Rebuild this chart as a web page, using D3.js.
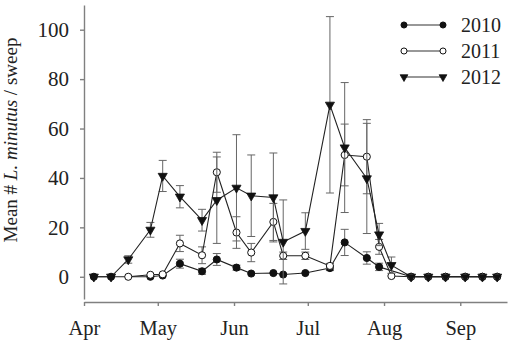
<!DOCTYPE html>
<meta charset="utf-8">
<style>
body { margin: 0; background: #fff; }
.axis path, .axis line { stroke: #808080; stroke-width: 1.4px; }
.series path.line { fill: none; stroke: #222; stroke-width: 1.1px; }
.err line { stroke: #666; stroke-width: 1px; }
</style>
<svg width="510" height="345"></svg>
<script src="https://cdnjs.cloudflare.com/ajax/libs/d3/7.8.5/d3.min.js"></script>
<script>
// sampling dates (month-day), shared by the three years
var dates = ["04-05","04-12","04-19","04-28","05-03","05-10","05-19","05-25","06-02","06-08","06-17","06-21",
             "06-30","07-10","07-16","07-25","07-30","08-04","08-12","08-19","08-26","09-03","09-10","09-16"];

var years = ["2010", "2011", "2012"];

var mean2010 = [0, 0, null, 0, 0.5, 5.3, 2.2, 7, 3.7, 1.3, 1.5, 0.9, 1.5, 3.5, 13.9, 7.6, 4, null, 0, 0, 0, 0, 0, 0];
var se2010   = [0, 0, null, 0, 0.5, 1.8, 1.2, 2.4, 1, 0.5, 0.5, 0.5, 0.5, 1, 5.3, 2.5, 1.5, null, 0, 0, 0, 0, 0, 0];

var mean2011 = [null, null, 0, 0.8, 1, 13.5, 8.7, 42.3, 17.9, 9.8, 22.2, 8.5, 8.5, 4.4, 49.3, 48.6, 12.1, 0.3, 0, 0, 0, 0, 0, 0];
var se2011   = [null, null, 0, 0.5, 0.5, 3.3, 3.4, 8.1, 6.4, 3.7, 7.5, 1.5, 1.5, 1, 12.5, 15, 3, 0.5, 0, 0, 0, 0, 0, 0];

var mean2012 = [0, 0, 7, 19, 40.8, 32.4, 22.9, 31, 36, 32.8, 32.1, 14.1, 18.5, 69.6, 52.3, 39.8, 17.1, 4.7, 0, 0, 0, 0, 0, 0];
var se2012   = [0, 0, 1.5, 3, 6.3, 4.5, 4.4, 17.5, 21.5, 16.5, 18, 17, 7.4, 35.7, 26.3, 22.3, 4.5, 3.3, 0, 0, 0, 0, 0, 0];

var yTicks = [0, 20, 40, 60, 80, 100];
var monthTicks = ["04-01","05-01","06-01","07-01","08-01","09-01"];

var serif = "'Liberation Serif', 'Times New Roman', serif";
var svg = d3.select("svg");
var parse = d3.timeParse("%Y-%m-%d");
var day = function(md) { return parse("2011-" + md); };

var x = d3.scaleTime().domain([day("04-01"), day("09-20")]).range([84, 507]);
var y = d3.scaleLinear().domain([-9, 110]).range([299, 5]);

// axes
var xg = svg.append("g").attr("class", "axis")
  .attr("transform", "translate(0,302)")
  .call(d3.axisBottom(x).tickValues(monthTicks.map(day)).tickFormat(d3.timeFormat("%b"))
        .tickSize(4).tickSizeOuter(0).tickPadding(14));
xg.attr("font-family", serif).attr("font-size", 20.5);
xg.selectAll("text").attr("fill", "#222");

var yg = svg.append("g").attr("class", "axis")
  .attr("transform", "translate(84,0)")
  .call(d3.axisLeft(y).tickValues(yTicks).tickSize(4).tickSizeOuter(0).tickPadding(11));
yg.attr("font-family", serif).attr("font-size", 21);
yg.selectAll("text").attr("fill", "#222");

svg.append("text")
  .attr("transform", "translate(17,140) rotate(-90)")
  .attr("text-anchor", "middle")
  .attr("font-family", serif).attr("font-size", 19).attr("fill", "#222")
  .html('Mean # <tspan font-style="italic">L. minutus</tspan> / sweep');

// series
var series = [
  {name: "2010", mean: mean2010, se: se2010, shape: "filled"},
  {name: "2011", mean: mean2011, se: se2011, shape: "open"},
  {name: "2012", mean: mean2012, se: se2012, shape: "tri"}
];

function marker(sel, shape, scale) {
  var s = scale || 1;
  if (shape === "tri") {
    sel.attr("d", d3.symbol().type(d3.symbolTriangle).size(36 * s * s)())
      .attr("fill", "#111").attr("stroke", "#111").attr("stroke-width", 0.8);
  } else {
    sel.attr("d", d3.symbol().type(d3.symbolCircle).size(40 * s * s)())
      .attr("fill", shape === "filled" ? "#111" : "#fff")
      .attr("stroke", "#111").attr("stroke-width", 1);
  }
}

var line = d3.line()
  .defined(function(d) { return d.v != null; })
  .x(function(d) { return x(d.date); })
  .y(function(d) { return y(d.v); });

series.forEach(function(s) {
  var pts = dates.map(function(md, i) { return {date: day(md), v: s.mean[i], e: s.se[i]}; });
  var valid = pts.filter(function(d) { return d.v != null; });
  var g = svg.append("g").attr("class", "series");

  var eb = g.append("g").attr("class", "err").selectAll("g")
    .data(valid.filter(function(d) { return d.e > 0.6; }))
    .enter().append("g");
  eb.append("line")
    .attr("x1", function(d) { return x(d.date); }).attr("x2", function(d) { return x(d.date); })
    .attr("y1", function(d) { return y(d.v - d.e); }).attr("y2", function(d) { return y(d.v + d.e); });
  [-1, 1].forEach(function(sign) {
    eb.append("line")
      .attr("x1", function(d) { return x(d.date) - 4; }).attr("x2", function(d) { return x(d.date) + 4; })
      .attr("y1", function(d) { return y(d.v + sign * d.e); }).attr("y2", function(d) { return y(d.v + sign * d.e); });
  });

  g.append("path").attr("class", "line").attr("d", line(valid));

  g.selectAll("path.pt").data(valid).enter().append("path")
    .attr("class", "pt")
    .attr("transform", function(d) {
      return "translate(" + x(d.date) + "," + y(d.v) + ")" + (s.shape === "tri" ? " rotate(180)" : "");
    })
    .call(marker, s.shape);
});

// legend
var leg = svg.append("g").selectAll("g").data(series).enter().append("g")
  .attr("transform", function(d, i) { return "translate(0," + (25 + i * 26) + ")"; });
leg.append("line").attr("x1", 404).attr("x2", 443).attr("stroke", "#333").attr("stroke-width", 1.1);
[404, 443].forEach(function(px) {
  leg.append("path")
    .attr("transform", function(d) { return "translate(" + px + ",0)" + (d.shape === "tri" ? " rotate(180)" : ""); })
    .each(function(d) { d3.select(this).call(marker, d.shape, 0.85); });
});
leg.append("text").attr("x", 461).attr("dy", "0.35em")
  .attr("font-family", serif).attr("font-size", 20).attr("fill", "#222")
  .text(function(d) { return d.name; });
</script>
